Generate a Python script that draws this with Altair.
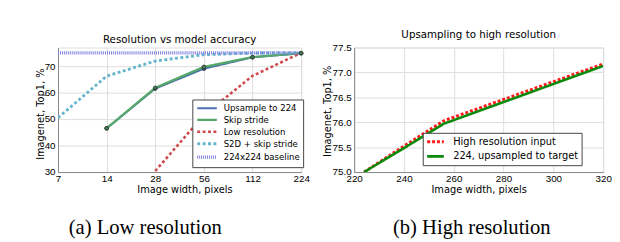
import altair as alt
import pandas as pd

# ---------------- data: panel (a) ----------------
ticks_a_x = [7, 14, 28, 56, 112, 224]
ticks_a_y = [30, 40, 50, 60, 70]
series_a = ["Upsample to 224", "Skip stride", "Low resolution", "S2D + skip stride", "224x224 baseline"]
colors_a = ["#4C72B0", "#55A868", "#D0494B", "#64B5CD", "#7F7FE0"]
dashes_a = [[1, 0], [1, 0], [3, 2.5], [3, 2.5], [1, 1]]
widths_a = [2.0, 3.2, 2.2, 2.6, 1.2]

upsample_x = [14, 28, 56, 112, 224]
upsample_y = [46.5, 61.5, 69.0, 73.3, 74.8]
skip_x = [14, 28, 56, 112, 224]
skip_y = [46.5, 61.8, 69.7, 73.4, 74.9]
lowres_x = [28, 56, 112, 224]
lowres_y = [30.4, 51.5, 66.3, 75.0]
s2d_x = [7, 14, 28, 56, 112, 224]
s2d_y = [50.5, 66.2, 71.9, 74.3, 74.9, 75.0]
baseline_x = [7, 224]
baseline_y = [75.0, 75.0]

# ---------------- data: panel (b) ----------------
ticks_b_x = [220, 240, 260, 280, 300, 320]
ticks_b_y = [75.0, 75.5, 76.0, 76.5, 77.0, 77.5]
series_b = ["High resolution input", "224, upsampled to target"]
colors_b = ["#FF1A1A", "#0A8A0A"]
dashes_b = [[3, 2], [1, 0]]
widths_b = [3.0, 2.6]

hires_x = [224, 240, 256, 288, 320]
hires_y = [75.0, 75.52, 76.03, 76.6, 77.17]
upto_x = [224, 240, 256, 288, 320]
upto_y = [75.0, 75.48, 75.97, 76.55, 77.13]

titles = ["Resolution vs model accuracy", "Upsampling to high resolution"]
captions = ["(a) Low resolution", "(b) High resolution"]
x_title = "Image width, pixels"
y_title = "Imagenet, Top1, %"

FONT = "DejaVu Sans"
LINE_SYMBOL = "M -2 0 L 2 0"


def frame(pairs):
    rows = []
    for name, xs, ys in pairs:
        for x, y in zip(xs, ys):
            rows.append({"series": name, "x": x, "y": y})
    return pd.DataFrame(rows)


df_a = frame([
    (series_a[0], upsample_x, upsample_y),
    (series_a[1], skip_x, skip_y),
    (series_a[2], lowres_x, lowres_y),
    (series_a[3], s2d_x, s2d_y),
    (series_a[4], baseline_x, baseline_y),
])
df_b = frame([
    (series_b[0], hires_x, hires_y),
    (series_b[1], upto_x, upto_y),
])

W_A, H_A = 248, 127
W_B, H_B = 254, 127


def legend(x, y, size, sym, row_pad, sym_off, lab_off):
    return alt.Legend(
        title=None, orient="none", legendX=x, legendY=y,
        labelFont=FONT, labelFontSize=size, labelColor="black",
        symbolType=LINE_SYMBOL, symbolSize=sym, symbolOffset=sym_off,
        fillColor="white", strokeColor="#444", padding=3,
        rowPadding=row_pad, labelOffset=lab_off, cornerRadius=0,
    )


def axis(values, fmt, title, tx, ty, baseline, pad, angle=None):
    kw = dict(values=values, format=fmt, title=title, titleX=tx, titleY=ty,
              titleBaseline=baseline, titleAlign="center", titleFontWeight="normal",
              titleFont=FONT, titleFontSize=10, ticks=False, tickSize=0,
              labelPadding=pad, labelFlush=False)
    if angle is not None:
        kw["titleAngle"] = angle
    return alt.Axis(**kw)


# ---------------- panel (a) ----------------
xa = alt.X("x:Q", scale=alt.Scale(type="log", base=2, domain=[7, 224], nice=False),
           axis=axis(ticks_a_x, "d", x_title, 129, 20.5, "alphabetic", 2))
ya = alt.Y("y:Q", scale=alt.Scale(domain=[30, 77], nice=False, zero=False),
           axis=axis(ticks_a_y, "d", y_title, -18, H_A / 2 + 4, "middle", 3, 270))
leg_a = legend(137, 53, 8.7, 100, 0.2, 5, 10)

lines_a = alt.Chart(df_a).mark_line(clip=True).encode(
    x=xa, y=ya,
    color=alt.Color("series:N", scale=alt.Scale(domain=series_a, range=colors_a), legend=leg_a),
    strokeDash=alt.StrokeDash("series:N", scale=alt.Scale(domain=series_a, range=dashes_a), legend=leg_a),
    strokeWidth=alt.StrokeWidth("series:N", scale=alt.Scale(domain=series_a, range=widths_a), legend=leg_a),
)
pts_a = alt.Chart(df_a[df_a.series.isin(series_a[:2])]).mark_point(filled=True, size=14, opacity=1).encode(
    x=xa, y=ya,
    fill=alt.Fill("series:N", scale=alt.Scale(domain=series_a[:2], range=["#3A5A90", "#3F8050"]), legend=None),
    stroke=alt.value("#333333"), strokeWidth=alt.value(0.8),
)
cap_a = alt.Chart(pd.DataFrame({"t": [captions[0]]})).mark_text(
    font="Liberation Serif", fontSize=21, align="center", baseline="alphabetic", color="black"
).encode(text="t:N", x=alt.value(89), y=alt.value(190))

panel_a = alt.layer(lines_a, pts_a, cap_a).properties(
    width=W_A, height=H_A,
    title=alt.TitleParams(titles[0], font=FONT, fontSize=10.5, fontWeight="normal", offset=2, color="black"),
)

# ---------------- panel (b) ----------------
xb = alt.X("x:Q", scale=alt.Scale(domain=[220, 320], nice=False, zero=False),
           axis=axis(ticks_b_x, "d", x_title, W_B / 2, 20.5, "alphabetic", 2))
yb = alt.Y("y:Q", scale=alt.Scale(domain=[75, 77.5], nice=False, zero=False),
           axis=axis(ticks_b_y, ".1f", y_title, -27, H_B / 2 + 1, "middle", 3, 270))
leg_b = legend(70, 87, 10, 72, 3, 4, 12)

lines_b = alt.Chart(df_b).mark_line(clip=True).encode(
    x=xb, y=yb,
    color=alt.Color("series:N", scale=alt.Scale(domain=series_b, range=colors_b), legend=leg_b),
    strokeDash=alt.StrokeDash("series:N", scale=alt.Scale(domain=series_b, range=dashes_b), legend=leg_b),
    strokeWidth=alt.StrokeWidth("series:N", scale=alt.Scale(domain=series_b, range=widths_b), legend=leg_b),
)
cap_b = alt.Chart(pd.DataFrame({"t": [captions[1]]})).mark_text(
    font="Liberation Serif", fontSize=21, align="center", baseline="alphabetic", color="black"
).encode(text="t:N", x=alt.value(120), y=alt.value(190))

panel_b = alt.layer(lines_b, cap_b).properties(
    width=W_B, height=H_B,
    title=alt.TitleParams(titles[1], font=FONT, fontSize=10.5, fontWeight="normal", offset=2, color="black"),
)

chart = alt.hconcat(panel_a, panel_b, spacing=12).resolve_scale(
    x="independent", y="independent", color="independent",
    strokeDash="independent", strokeWidth="independent",
).resolve_legend(color="independent", strokeDash="independent", strokeWidth="independent").properties(
    padding={"left": 27, "top": 20, "right": 0, "bottom": 0}
).configure_view(
    stroke="#222222", strokeWidth=1
).configure_axis(
    labelFont=FONT, labelFontSize=8, labelColor="black",
    titleFont=FONT, titleFontSize=10, titleFontWeight="normal", titleColor="black",
    grid=True, gridColor="#888888", gridDash=[1, 2], gridWidth=0.8, domain=False,
).configure(background="white")

chart.save("out.html", embed_options={"renderer": "svg", "actions": False})
